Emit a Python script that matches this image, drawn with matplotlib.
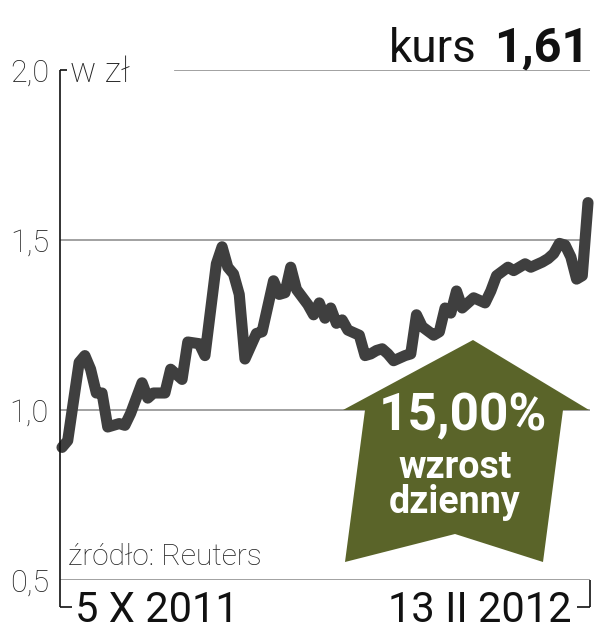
import matplotlib
matplotlib.use("Agg")
import matplotlib.pyplot as plt
from matplotlib import font_manager
from matplotlib.patches import Polygon
from matplotlib.lines import Line2D

# ---- data ----
day_index = [0, 1, 3, 4, 5, 6, 7, 8, 10, 11, 12, 14, 15, 16, 18, 19, 21, 22, 24, 25,
             27, 28, 29, 30, 31, 32, 34, 35, 37, 38, 39, 40, 41, 43, 44, 45, 46, 47,
             48, 49, 50, 52, 53, 54, 55, 56, 57, 58, 60, 61, 62, 63, 65, 66, 67, 68,
             69, 70, 72, 74, 75, 76, 78, 79, 81, 82, 84, 85, 86, 87, 88, 89, 90, 91, 92]
price = [0.89, 0.91, 1.14, 1.16, 1.12, 1.05, 1.05, 0.95, 0.96, 0.955, 0.99, 1.08, 1.035,
         1.05, 1.05, 1.12, 1.09, 1.20, 1.195, 1.16, 1.43, 1.48, 1.42, 1.40, 1.34, 1.15,
         1.225, 1.23, 1.38, 1.34, 1.345, 1.42, 1.355, 1.31, 1.28, 1.315, 1.27, 1.30,
         1.255, 1.265, 1.235, 1.22, 1.16, 1.165, 1.175, 1.18, 1.165, 1.145, 1.16, 1.165,
         1.28, 1.245, 1.22, 1.23, 1.30, 1.285, 1.35, 1.30, 1.33, 1.315, 1.35, 1.395,
         1.42, 1.41, 1.43, 1.42, 1.435, 1.445, 1.46, 1.49, 1.485, 1.45, 1.385, 1.395, 1.61]
y_ticks = [0.5, 1.0, 1.5, 2.0]
y_tick_labels = ["0,5", "1,0", "1,5", "2,0"]
date_start = "5 X 2011"
date_end = "13 II 2012"
last_price = "1,61"
change_text = "15,00%"
change_words = "wzrost\ndzienny"
unit_label = "w zł"
source_label = "źródło: Reuters"

# ---- fonts ----
avail = {f.name for f in font_manager.fontManager.ttflist}
narrow = "Liberation Sans Narrow" if "Liberation Sans Narrow" in avail else "Roboto"
FAM = [narrow, "DejaVu Sans"]

W, H = 605, 640
fig = plt.figure(figsize=(W / 100, H / 100), dpi=100)
fig.patch.set_facecolor("white")


def fx(x):
    return x / W


def fy(y):
    return 1 - y / H


ax = fig.add_axes([fx(60), fy(580), fx(590) - fx(60), fy(70) - fy(580)])
ax.set_facecolor("none")
ax.set_ylim(0.5, 2.0)
ax.set_xlim(-0.35, 92.35)
for s in ax.spines.values():
    s.set_visible(False)
ax.set_xticks([])
ax.set_yticks(y_ticks)
ax.set_yticklabels(y_tick_labels, family=FAM, fontsize=22, fontweight="light",
                   color="#222222")
ax.tick_params(axis="y", length=0, pad=8)

grid_c = "#9a9a9a"
for v in y_ticks[:3]:
    ax.axhline(v, color=grid_c, lw=1.3, zorder=1)
ax.axhline(2.0, xmin=(175 - 60) / 530, xmax=1, color=grid_c, lw=1.3, zorder=1)

# axis brackets (figure coords)
bk = dict(color="#111111", lw=1.2, transform=fig.transFigure, solid_capstyle="butt")
fig.add_artist(Line2D([fx(60), fx(60)], [fy(70), fy(607)], **bk))
fig.add_artist(Line2D([fx(60), fx(67)], [fy(70), fy(70)], **bk))
fig.add_artist(Line2D([fx(60), fx(72)], [fy(607), fy(607)], **bk))
fig.add_artist(Line2D([fx(590), fx(590)], [fy(580), fy(607)], **bk))
fig.add_artist(Line2D([fx(590), fx(577)], [fy(607), fy(607)], **bk))

# arrow
arrow_px = [(473, 340), (589, 410), (563, 410), (543, 562), (455, 534),
            (345, 562), (365, 410), (343, 410)]
poly = Polygon([(fx(x), fy(y)) for x, y in arrow_px], closed=True,
               facecolor="#5a6429", edgecolor="none", transform=fig.transFigure, zorder=3)
fig.add_artist(poly)

# price line
ax.plot(day_index, price, color="#3f3f3f", lw=8, solid_joinstyle="round",
        solid_capstyle="round", clip_on=False, zorder=4)

# texts
fig.text(fx(70), fy(72), unit_label, family=FAM, fontsize=25, fontweight="light",
         color="#222222", ha="left", va="center")
fig.text(fx(68), fy(557), source_label, family=FAM, fontsize=21.5, fontweight="light",
         color="#222222", ha="left", va="center")
fig.text(fx(75), fy(611), date_start, family=FAM, fontsize=30, color="#111111",
         ha="left", va="center")
fig.text(fx(571), fy(611), date_end, family=FAM, fontsize=30, color="#111111",
         ha="right", va="center")
fig.text(fx(589), fy(62), last_price, family=FAM, fontsize=35, fontweight="bold",
         color="#111111", ha="right", va="baseline")
fig.text(fx(477), fy(62), "kurs", family=FAM, fontsize=33, color="#111111",
         ha="right", va="baseline")
fig.text(fx(463), fy(416), change_text, family=FAM, fontsize=37, fontweight="bold",
         color="white", ha="center", va="center", zorder=5)
fig.text(fx(455), fy(485), change_words, family=FAM, fontsize=27, fontweight="bold",
         color="white", ha="center", va="center", linespacing=0.95, zorder=5)

fig.savefig("out.png", dpi=100, facecolor="white")
